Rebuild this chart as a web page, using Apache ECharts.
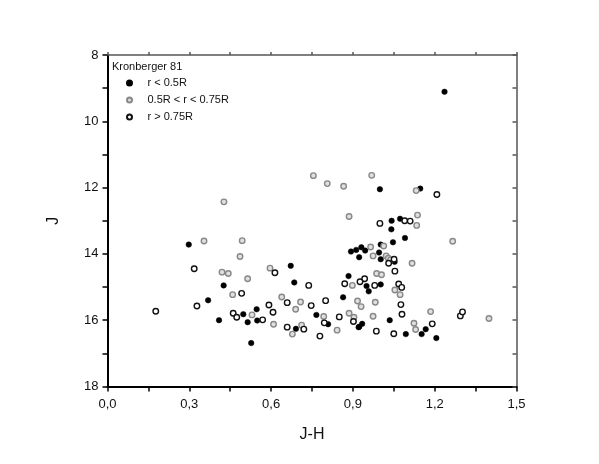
<!DOCTYPE html>
<html>
<head>
<meta charset="utf-8">
<script src="https://cdn.jsdelivr.net/npm/echarts@6/dist/echarts.min.js"></script>
<style>
  html, body { margin: 0; padding: 0; background: #fff; }
  #main { width: 599px; height: 464px; }
</style>
</head>
<body>
<div id="main"></div>
<script>
// J-H (x), J (y) for each group of stars
const innerStars = [
  [0.298, 13.72], [0.426, 14.95], [0.369, 15.40], [0.409, 16.00], [0.498, 15.82],
  [0.514, 16.06], [0.672, 14.36], [0.685, 14.86], [0.547, 15.67], [0.549, 16.01],
  [0.766, 15.84], [0.809, 16.12], [0.691, 16.26], [0.527, 16.69], [0.864, 15.31],
  [0.921, 16.21], [0.999, 12.05], [1.147, 12.03], [1.042, 13.00], [1.041, 13.26],
  [1.073, 12.94], [1.091, 13.52], [1.047, 13.65], [1.002, 13.72], [0.945, 13.90],
  [0.931, 13.80], [0.912, 13.88], [0.893, 13.93], [0.923, 14.10], [0.996, 13.96],
  [1.002, 14.16], [1.053, 14.24], [0.884, 14.67], [0.950, 14.97], [0.958, 15.13],
  [1.002, 14.92], [1.035, 16.00], [1.167, 16.27], [1.152, 16.42], [1.094, 16.42],
  [1.206, 16.54], [0.923, 16.20], [0.934, 16.11], [1.236, 9.11]
];
const middleStars = [
  [0.354, 13.61], [0.494, 13.60], [0.486, 14.08], [0.420, 14.55], [0.443, 14.59],
  [0.514, 14.75], [0.459, 15.23], [0.427, 12.43], [0.596, 14.43], [0.639, 15.30],
  [0.708, 15.45], [0.690, 15.67], [0.530, 15.84], [0.609, 16.12], [0.793, 15.89],
  [0.712, 16.15], [0.678, 16.42], [0.917, 15.42], [0.886, 15.79], [0.904, 15.91],
  [0.842, 16.30], [0.755, 11.64], [0.969, 11.63], [0.806, 11.88], [0.866, 11.96],
  [1.132, 12.09], [0.886, 12.87], [1.137, 12.83], [1.134, 13.14], [1.266, 13.62],
  [1.013, 13.76], [0.965, 13.79], [0.974, 14.06], [1.022, 14.06], [1.030, 14.13],
  [1.038, 14.18], [1.117, 14.28], [0.987, 14.59], [1.005, 14.63], [0.898, 14.95],
  [1.054, 15.09], [1.073, 15.23], [0.982, 15.46], [0.930, 15.59], [0.974, 15.88],
  [1.185, 15.74], [1.124, 16.09], [1.130, 16.28], [1.399, 15.95]
];
const outerStars = [
  [0.318, 14.45], [0.492, 15.19], [0.328, 15.57], [0.177, 15.73], [0.461, 15.79],
  [0.474, 15.91], [0.614, 14.57], [0.738, 14.95], [0.659, 15.47], [0.747, 15.56],
  [0.800, 15.41], [0.592, 15.54], [0.607, 15.76], [0.569, 15.99], [0.795, 16.08],
  [0.659, 16.21], [0.720, 16.27], [0.779, 16.48], [0.850, 15.90], [0.902, 16.04],
  [1.208, 12.21], [0.999, 13.08], [1.090, 13.00], [1.110, 13.01], [1.031, 14.28],
  [1.051, 14.16], [1.054, 14.52], [0.943, 14.75], [0.926, 14.84], [0.980, 14.95],
  [0.870, 14.90], [1.068, 14.91], [1.079, 15.01], [1.076, 15.53], [1.080, 15.82],
  [1.294, 15.87], [1.302, 15.75], [1.191, 16.11], [1.050, 16.41], [0.986, 16.33]
];
const groupNames = ['r < 0.5R', '0.5R < r < 0.75R', 'r > 0.75R'];
const clusterName = 'Kronberger 81';

const font = 'Liberation Sans, Arial, sans-serif';
const myChart = echarts.init(document.getElementById('main'));

// x 刻度每 0.15 一格, 标签每 0.3 一个, 用逗号做小数点
function xLabel(v) {
  const k = Math.round(v / 0.15);
  return k % 2 === 0 ? (k * 0.15).toFixed(1).replace('.', ',') : '';
}

const option = {
  backgroundColor: '#fff',
  animation: false,
  title: {
    text: clusterName,
    left: 112,
    top: 61,
    padding: 0,
    textStyle: { fontFamily: font, fontSize: 11, fontWeight: 'normal', color: '#111' }
  },
  legend: {
    orient: 'vertical',
    left: 126,
    top: 77,
    padding: 0,
    itemWidth: 26,
    itemHeight: 5,
    itemGap: 5,
    textStyle: { fontFamily: font, fontSize: 11, color: '#111', lineHeight: 12 },
    data: groupNames
  },
  grid: { left: 107.5, right: 82.5, top: 55, bottom: 77.5 },
  xAxis: [{
    type: 'value',
    min: 0,
    max: 1.5,
    interval: 0.15,
    name: 'J-H',
    nameLocation: 'middle',
    nameGap: 40,
    nameTextStyle: { fontFamily: font, fontSize: 16, color: '#111' },
    axisLine: { onZero: false, lineStyle: { color: '#000', width: 2 } },
    axisTick: { length: 5, lineStyle: { color: '#000', width: 1.5 } },
    axisLabel: { formatter: xLabel, margin: 11, fontFamily: font, fontSize: 13, color: '#111' },
    splitLine: { show: false }
  }, {
    type: 'value',
    position: 'top',
    min: 0,
    max: 1.5,
    interval: 0.15,
    axisLine: { onZero: false, lineStyle: { color: '#555', width: 1.5 } },
    axisTick: { length: 3, lineStyle: { color: '#555', width: 1.5 } },
    axisLabel: { show: false },
    splitLine: { show: false }
  }],
  yAxis: [{
    type: 'value',
    inverse: true,
    min: 8,
    max: 18,
    interval: 1,
    name: 'J',
    nameLocation: 'middle',
    nameGap: 46,
    nameTextStyle: { fontFamily: font, fontSize: 16, color: '#111' },
    axisLine: { onZero: false, lineStyle: { color: '#000', width: 2 } },
    axisTick: { length: 5, lineStyle: { color: '#000', width: 1.5 } },
    axisLabel: {
      formatter: v => (v % 2 === 0 ? String(v) : ''),
      margin: 9, fontFamily: font, fontSize: 13, color: '#111'
    },
    splitLine: { show: false }
  }, {
    type: 'value',
    position: 'right',
    inverse: true,
    min: 8,
    max: 18,
    interval: 1,
    axisLine: { onZero: false, lineStyle: { color: '#555', width: 1.5 } },
    axisTick: { inside: true, length: 4, lineStyle: { color: '#555', width: 1.5 } },
    axisLabel: { show: false },
    splitLine: { show: false }
  }],
  series: [{
    name: groupNames[0],
    type: 'scatter',
    symbol: 'circle',
    symbolSize: 5.5,
    itemStyle: { color: '#000', borderColor: '#000', borderWidth: 0.5, opacity: 1 },
    data: innerStars
  }, {
    name: groupNames[1],
    type: 'scatter',
    symbol: 'circle',
    symbolSize: 5.5,
    itemStyle: { color: '#e0e0e0', borderColor: '#888', borderWidth: 1.4, opacity: 1 },
    data: middleStars
  }, {
    name: groupNames[2],
    type: 'scatter',
    symbol: 'circle',
    symbolSize: 5.5,
    itemStyle: { color: '#fff', borderColor: '#111', borderWidth: 1.4, opacity: 1 },
    data: outerStars
  }]
};

myChart.setOption(option);
</script>
</body>
</html>
